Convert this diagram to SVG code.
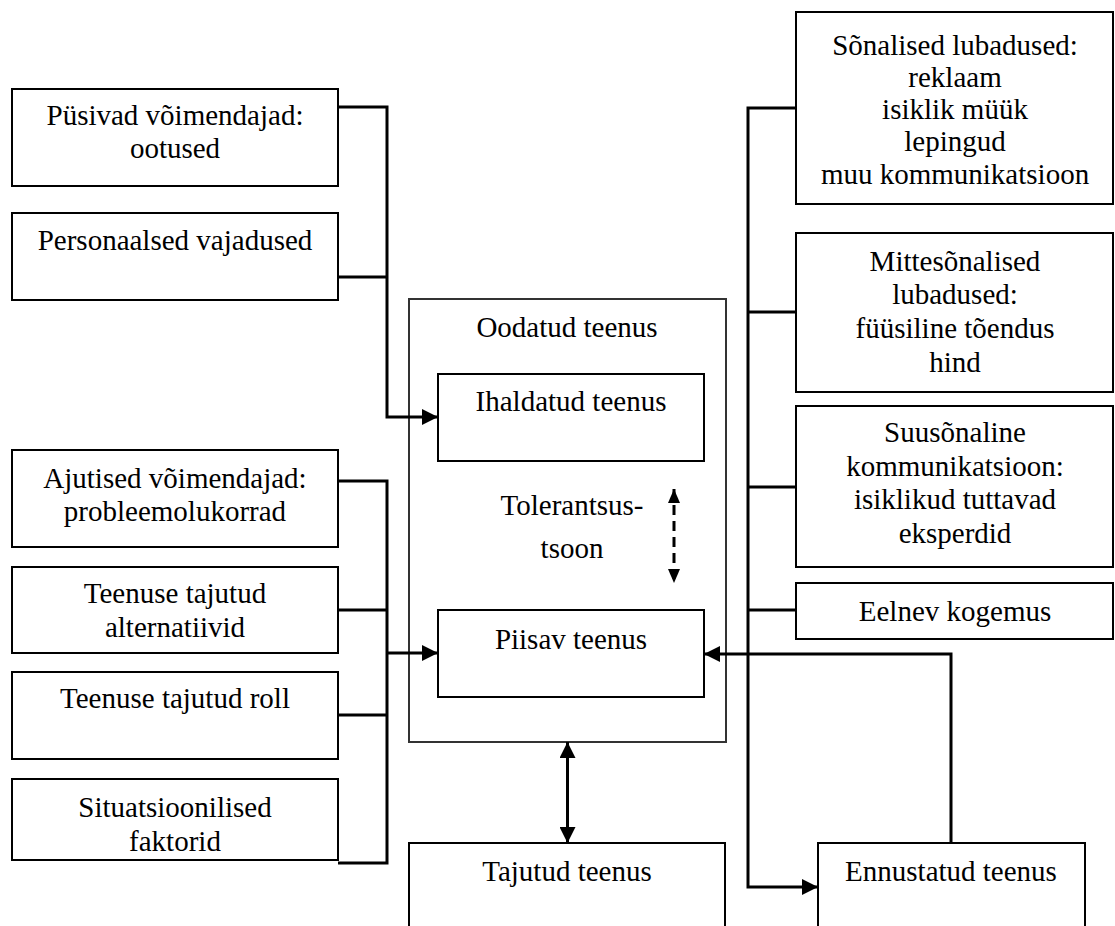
<svg xmlns="http://www.w3.org/2000/svg" width="1115" height="926" viewBox="0 0 1115 926">
  <style>
    .box { fill: #fff; stroke: #000; stroke-width: 2; }
    .outer { fill: #fff; stroke: #333; stroke-width: 2; }
    .lbl { font-family: "Liberation Serif", "Times New Roman", serif; font-size: 29px; fill: #000; text-anchor: middle; }
    .wire { fill: none; stroke: #000; stroke-width: 3; }
    .dash { fill: none; stroke: #000; stroke-width: 3; stroke-dasharray: 10 6; }
  </style>
  <defs>
    <marker id="head" markerUnits="userSpaceOnUse" markerWidth="16" markerHeight="16" refX="16" refY="8" orient="auto-start-reverse">
      <path d="M0,0 L16,8 L0,16 Z" fill="#000"/>
    </marker>
    <marker id="headSmall" markerUnits="userSpaceOnUse" markerWidth="14" markerHeight="12" refX="14" refY="6" orient="auto-start-reverse">
      <path d="M0,0 L14,6 L0,12 Z" fill="#000"/>
    </marker>
  </defs>

  <rect width="1115" height="926" fill="#fff"/>

  <!-- left column: lasting intensifiers and personal needs -->
  <g id="pysivad">
    <rect class="box" x="12" y="89" width="326" height="97"/>
    <text class="lbl" x="175" y="125">Püsivad võimendajad:</text>
    <text class="lbl" x="175" y="158">ootused</text>
  </g>
  <g id="personaalsed">
    <rect class="box" x="12" y="213" width="326" height="87"/>
    <text class="lbl" x="175" y="250">Personaalsed vajadused</text>
  </g>

  <!-- left column: temporary factors -->
  <g id="ajutised">
    <rect class="box" x="12" y="450" width="326" height="97"/>
    <text class="lbl" x="175" y="488">Ajutised võimendajad:</text>
    <text class="lbl" x="175" y="521">probleemolukorrad</text>
  </g>
  <g id="alternatiivid">
    <rect class="box" x="12" y="567" width="326" height="86"/>
    <text class="lbl" x="175" y="603">Teenuse tajutud</text>
    <text class="lbl" x="175" y="637">alternatiivid</text>
  </g>
  <g id="roll">
    <rect class="box" x="12" y="672" width="326" height="87"/>
    <text class="lbl" x="175" y="708">Teenuse tajutud roll</text>
  </g>
  <g id="situatsioonilised">
    <rect class="box" x="12" y="779" width="326" height="81"/>
    <text class="lbl" x="175" y="817">Situatsioonilised</text>
    <text class="lbl" x="175" y="851">faktorid</text>
  </g>

  <!-- centre: expected service with desired and adequate levels -->
  <g id="oodatud">
    <rect class="outer" x="409" y="299" width="317" height="443"/>
    <text class="lbl" x="567" y="337">Oodatud teenus</text>
  </g>
  <g id="ihaldatud">
    <rect class="box" x="438" y="374" width="266" height="87"/>
    <text class="lbl" x="571" y="411">Ihaldatud teenus</text>
  </g>
  <g id="tolerantsus">
    <text class="lbl" x="572" y="515">Tolerantsus-</text>
    <text class="lbl" x="572" y="558">tsoon</text>
  </g>
  <g id="piisav">
    <rect class="box" x="438" y="610" width="266" height="87"/>
    <text class="lbl" x="571" y="649">Piisav teenus</text>
  </g>
  <g id="tajutud">
    <rect class="box" x="409" y="843" width="316" height="100"/>
    <text class="lbl" x="567" y="881">Tajutud teenus</text>
  </g>

  <!-- right column: promises and experience -->
  <g id="sonalised">
    <rect class="box" x="796" y="12" width="317" height="192"/>
    <text class="lbl" x="955" y="55">Sõnalised lubadused:</text>
    <text class="lbl" x="955" y="87">reklaam</text>
    <text class="lbl" x="955" y="119">isiklik müük</text>
    <text class="lbl" x="955" y="151">lepingud</text>
    <text class="lbl" x="955" y="184">muu kommunikatsioon</text>
  </g>
  <g id="mittesonalised">
    <rect class="box" x="796" y="233" width="317" height="159"/>
    <text class="lbl" x="955" y="271">Mittesõnalised</text>
    <text class="lbl" x="955" y="304">lubadused:</text>
    <text class="lbl" x="955" y="338">füüsiline tõendus</text>
    <text class="lbl" x="955" y="372">hind</text>
  </g>
  <g id="suusonaline">
    <rect class="box" x="796" y="406" width="317" height="161"/>
    <text class="lbl" x="955" y="442">Suusõnaline</text>
    <text class="lbl" x="955" y="476">kommunikatsioon:</text>
    <text class="lbl" x="955" y="509">isiklikud tuttavad</text>
    <text class="lbl" x="955" y="543">eksperdid</text>
  </g>
  <g id="eelnev">
    <rect class="box" x="796" y="583" width="317" height="56"/>
    <text class="lbl" x="955" y="621">Eelnev kogemus</text>
  </g>
  <g id="ennustatud">
    <rect class="box" x="818" y="843" width="267" height="100"/>
    <text class="lbl" x="951" y="881">Ennustatud teenus</text>
  </g>

  <!-- connectors -->
  <g id="connectors">
    <!-- lasting factors into desired service -->
    <path class="wire" d="M338,107 H387 V417 H438" marker-end="url(#head)"/>
    <path class="wire" d="M338,277 H387"/>
    <!-- temporary factors into adequate service -->
    <path class="wire" d="M338,481 H387 V863 H338"/>
    <path class="wire" d="M338,610 H387"/>
    <path class="wire" d="M338,715 H387"/>
    <path class="wire" d="M387,653 H438" marker-end="url(#head)"/>
    <!-- promises and experience into predicted service -->
    <path class="wire" d="M796,108 H748 V887 H818" marker-end="url(#head)"/>
    <path class="wire" d="M796,312 H748"/>
    <path class="wire" d="M796,487 H748"/>
    <path class="wire" d="M796,610 H748"/>
    <!-- predicted service into adequate service -->
    <path class="wire" d="M951,843 V654 H704" marker-end="url(#head)"/>
    <!-- expected vs perceived -->
    <path class="wire" d="M567.5,742 V843" marker-start="url(#head)" marker-end="url(#head)"/>
    <!-- zone of tolerance -->
    <path class="dash" d="M674,489 V583" marker-start="url(#headSmall)" marker-end="url(#headSmall)"/>
  </g>
</svg>
